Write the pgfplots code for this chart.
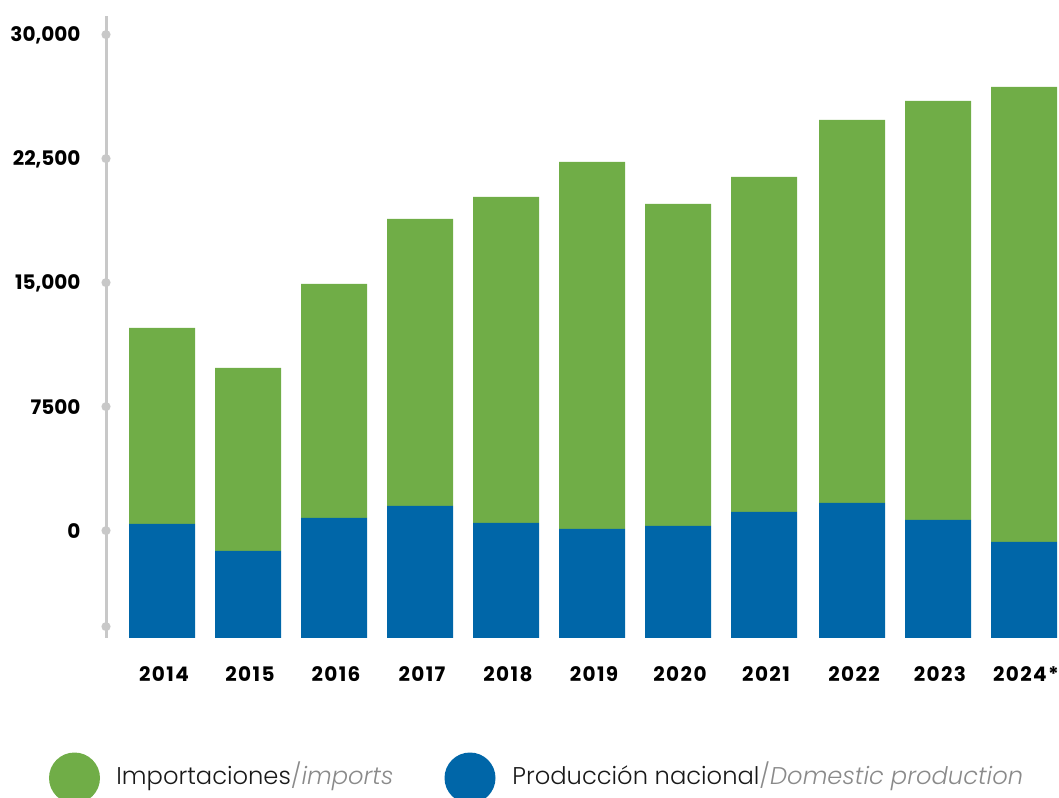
\documentclass[border=0pt]{standalone}
\usepackage{fontspec}
\setmainfont{Poppins}[BoldFont=* Bold, ItalicFont=* Italic]
\newfontfamily\poplight{Poppins Light}[ItalicFont=Poppins Light Italic]
\newfontfamily\yearfont{Poppins Bold}[LetterSpace=7]
\usepackage{pgfplots}
\pgfplotsset{compat=1.18}
\usepackage{pgfplotstable}
\definecolor{impgreen}{HTML}{70AD47}
\definecolor{domblue}{HTML}{0066A8}
\definecolor{axgray}{HTML}{C8C8C8}
\definecolor{txtgray}{HTML}{8A8A8A}

% x: category position, dom: top of blue part, tot: top of green part
\pgfplotstableread{
x       year   dom    tot
0       2014   423    12278
1       2015   -1210  9859
2       2016   786    14940
3       2017   1512   18871
4       2018   484    20202
5       2019   121    22319
6       2020   302    19778
7       2021   1149   21411
8.0233  2022   1694   24859
9.0233  2023   665    26008
10.0233 2024*  -665   26855
}\data

\begin{document}
\begin{tikzpicture}
\begin{axis}[
  name=ax, anchor=south west, at={(0,0)},
  scale only axis, width=475.5pt, height=311pt,
  xmin=-0.6512, xmax=10.407, ymin=-6472, ymax=31149,
  ybar stacked, stack negative=on previous, bar width=33pt,
  axis lines=left, axis line style={-},
  x axis line style={draw=none},
  y axis line style={draw=axgray, line width=1.5pt},
  xtick={0,1,2,3,4,5,6,7,8.0233,9.0233,10.0233},
  xticklabels={2014,2015,2016,2017,2018,2019,2020,2021,2022,2023,2024*},
  xtick style={draw=none},
  ytick={-5806,0,7500,15000,22500,30000},
  yticklabels={,0,7500,{15,000},{22,500},{30,000}},
  ytick style={draw=axgray, line width=4.5pt, line cap=round},
  major tick length=0.1pt, tick align=center,
  tick label style={font=\bfseries\fontsize{10}{12}\selectfont, inner sep=0pt, text=black},
  xticklabel style={anchor=base, yshift=-21.5pt, xshift=1pt, font=\yearfont\fontsize{10}{12}\selectfont},
  yticklabel style={anchor=east, xshift=-12.5pt},
  clip=false,
]
\addplot[draw=none, fill=none] table[x=x, y expr=-6472] \data;
\addplot[draw=none, fill=domblue] table[x=x, y expr=\thisrow{dom}+6472] \data;
\addplot[draw=none, fill=impgreen] table[x=x, y expr=\thisrow{tot}-\thisrow{dom}] \data;
\end{axis}
% legend
\fill[impgreen] ([xshift=-15.75pt, yshift=-70pt]ax.south west) circle (12.75pt);
\node[anchor=base west, inner sep=0pt, font=\poplight\fontsize{12.1}{15}\selectfont, text=black!90]
  at ([xshift=5pt, yshift=-73pt]ax.south west) {Importaciones\textcolor{txtgray}{/\textit{imports}}};
\fill[domblue] ([xshift=182pt, yshift=-70pt]ax.south west) circle (12.75pt);
\node[anchor=base west, inner sep=0pt, font=\poplight\fontsize{12.1}{15}\selectfont, text=black!90]
  at ([xshift=203pt, yshift=-73pt]ax.south west) {Producción nacional\textcolor{txtgray}{/\textit{Domestic production}}};
\pgfresetboundingbox
\useasboundingbox ([xshift=-53pt, yshift=-79.5pt]ax.south west) rectangle ([xshift=476.5pt, yshift=319pt]ax.south west);
\end{tikzpicture}
\end{document}
